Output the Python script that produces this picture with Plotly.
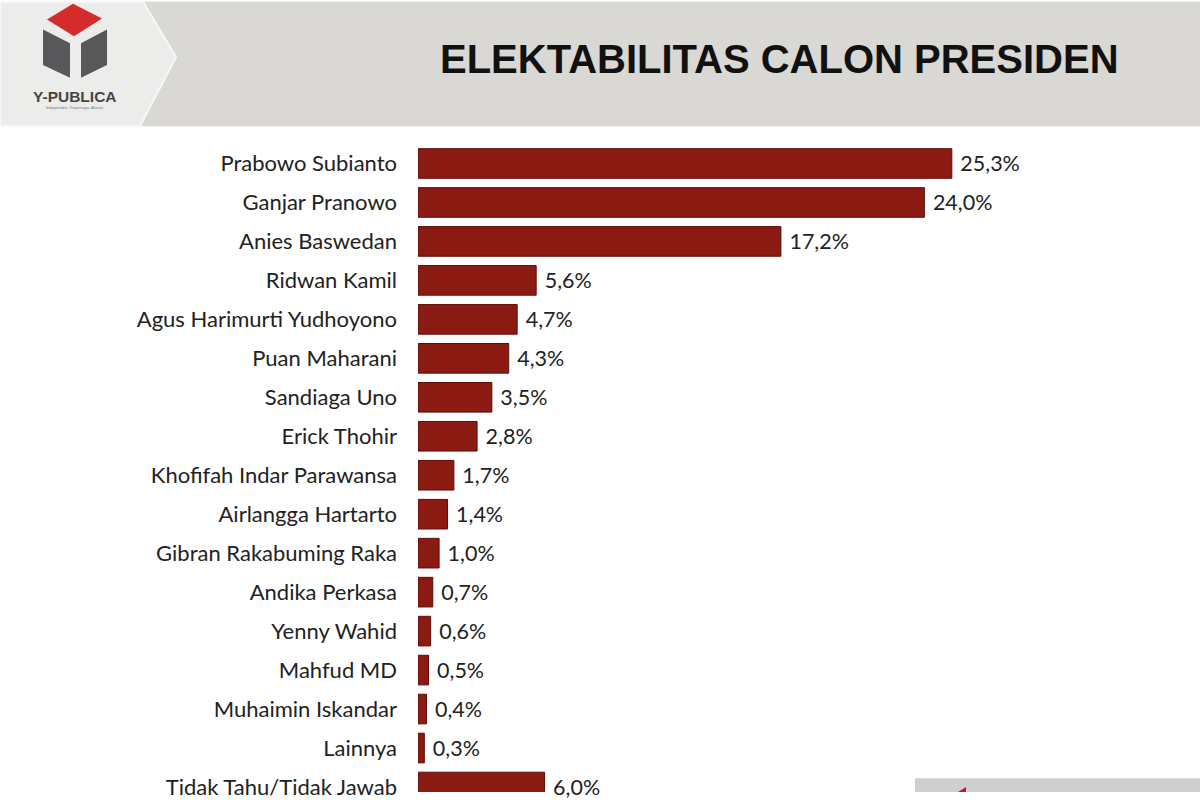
import plotly.graph_objects as go

categories = ["Prabowo Subianto", "Ganjar Pranowo", "Anies Baswedan", "Ridwan Kamil",
              "Agus Harimurti Yudhoyono", "Puan Maharani", "Sandiaga Uno", "Erick Thohir",
              "Khofifah Indar Parawansa", "Airlangga Hartarto", "Gibran Rakabuming Raka",
              "Andika Perkasa", "Yenny Wahid", "Mahfud MD", "Muhaimin Iskandar", "Lainnya",
              "Tidak Tahu/Tidak Jawab"]
values = [25.3, 24.0, 17.2, 5.6, 4.7, 4.3, 3.5, 2.8, 1.7, 1.4, 1.0, 0.7, 0.6, 0.5, 0.4, 0.3, 6.0]
value_labels = [f"{v:.1f}".replace(".", ",") + "%" for v in values]
title_text = "ELEKTABILITAS CALON PRESIDEN"

W, H = 1200, 800
ML, MR, MT, MB = 418, 22, 144, 0
PW, PH = W - ML - MR, H - MT - MB

def X(px):
    return (px - ML) / PW

def Y(py):
    return (H - MB - py) / PH

def path(pts):
    return "M " + " L ".join(f"{X(a):.5f},{Y(b):.5f}" for a, b in pts) + " Z"

fig = go.Figure(go.Bar(
    x=values, y=categories, orientation="h",
    marker=dict(color="#8b1a13", line=dict(color="#5c0d08", width=1)),
    width=0.76,
    text=value_labels, texttemplate="\u00a0%{text}", textposition="outside",
    textfont=dict(family="Lato, Open Sans, sans-serif", size=21.5, color="#222222"),
    cliponaxis=False,
))

shapes = [
    dict(type="rect", xref="paper", yref="paper", x0=X(0), x1=X(W), y0=Y(126), y1=Y(0),
         fillcolor="#d9d8d4", line=dict(width=0), layer="above"),
    dict(type="path", xref="paper", yref="paper",
         path=path([(0, 0), (143, 0), (176, 56), (140, 126), (0, 126)]),
         fillcolor="#ececeb", line=dict(color="#f7f7f7", width=2), layer="above"),
    dict(type="path", xref="paper", yref="paper",
         path=path([(73, 2), (102, 17), (74, 35), (47, 18)]),
         fillcolor="#d42b2b", line=dict(width=0), layer="above"),
    dict(type="path", xref="paper", yref="paper",
         path=path([(43, 28), (70, 42), (70, 77), (43, 64)]),
         fillcolor="#58585a", line=dict(width=0), layer="above"),
    dict(type="path", xref="paper", yref="paper",
         path=path([(107, 28), (81, 42), (81, 77), (107, 64)]),
         fillcolor="#58585a", line=dict(width=0), layer="above"),
    dict(type="rect", xref="paper", yref="paper", x0=X(915), x1=X(W), y0=Y(800), y1=Y(786),
         fillcolor="#cfcfcf", line=dict(width=0), layer="above"),
    dict(type="path", xref="paper", yref="paper",
         path=path([(958, 800), (966, 795), (966, 800)]),
         fillcolor="#c0143c", line=dict(width=0), layer="above"),
]

annotations = [
    dict(text=f"<b>{title_text}</b>", xref="paper", yref="paper", x=X(779), y=Y(58),
         xanchor="center", yanchor="middle", showarrow=False,
         font=dict(family="Liberation Sans, Arial", size=40, color="#111111")),
    dict(text="<b>Y-PUBLICA</b>", xref="paper", yref="paper", x=X(75), y=Y(96),
         xanchor="center", yanchor="middle", showarrow=False,
         font=dict(family="Liberation Sans, Arial", size=15.5, color="#454545")),
    dict(text="Independen. Terpercaya. Akurat.", xref="paper", yref="paper", x=X(75), y=Y(107),
         xanchor="center", yanchor="middle", showarrow=False,
         font=dict(family="Liberation Sans, Arial", size=4, color="#777777")),
]

fig.update_layout(
    width=W, height=H,
    margin=dict(l=ML, r=MR, t=MT, b=MB, pad=0),
    paper_bgcolor="white", plot_bgcolor="white",
    showlegend=False,
    shapes=shapes, annotations=annotations,
    xaxis=dict(range=[0, PW / 21.1], visible=False, fixedrange=True),
    yaxis=dict(type="category", categoryorder="array", categoryarray=categories,
               range=[-0.5 + PH / 39.45, -0.5], showgrid=False, zeroline=False, showline=False,
               ticks="", ticklabelstandoff=20,
               tickfont=dict(family="Lato, Open Sans, sans-serif", size=22, color="#222222")),
)

fig.write_html("out.html")
